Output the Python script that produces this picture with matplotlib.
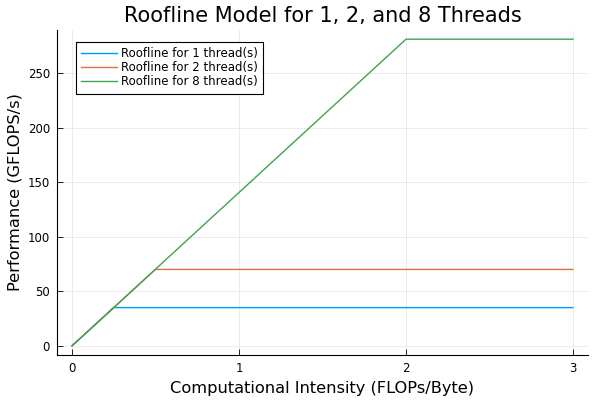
import matplotlib
matplotlib.use('Agg')
import matplotlib.pyplot as plt

# Roofline data (intensity in FLOPs/Byte, performance in GFLOPS/s)
threads = [1, 2, 8]
intensity_1 = [0.0, 0.25, 3.0]
perf_1 = [0.0, 35.0, 35.0]
intensity_2 = [0.0, 0.5, 3.0]
perf_2 = [0.0, 70.0, 70.0]
intensity_8 = [0.0, 2.0, 3.0]
perf_8 = [0.0, 281.0, 281.0]

colors = ['#009AFA', '#E36F47', '#3EA44E']

plt.rcParams['font.family'] = 'DejaVu Sans'

fig = plt.figure(figsize=(6, 4), dpi=100)
ax = fig.add_axes([0.095, 0.1125, 0.885, 0.8125])

series = [(intensity_1, perf_1), (intensity_2, perf_2), (intensity_8, perf_8)]
for t, (x, y), c in zip(threads, series, colors):
    ax.plot(x, y, color=c, linewidth=1, label=f'Roofline for {t} thread(s)')

ax.set_xlim(-0.09, 3.09)
ax.set_ylim(-8.43, 289.43)
ax.set_xticks([0, 1, 2, 3])
ax.set_yticks([0, 50, 100, 150, 200, 250])
ax.grid(True, color='black', alpha=0.1, linewidth=0.5)

for s in ['top', 'right']:
    ax.spines[s].set_visible(False)
ax.tick_params(direction='in', length=4, width=0.6, labelsize=8.5, pad=5)

ax.set_title('Roofline Model for 1, 2, and 8 Threads', fontsize=15)
ax.set_xlabel('Computational Intensity (FLOPs/Byte)', fontsize=11.7)
ax.set_ylabel('Performance (GFLOPS/s)', fontsize=11.7)

leg = ax.legend(loc='upper left', bbox_to_anchor=(19 / 531, 1 - 12 / 325),
                borderaxespad=0, fontsize=8.5, fancybox=False, framealpha=1,
                edgecolor='black', handlelength=3.0, handletextpad=0.35,
                borderpad=0.45, labelspacing=0.08)
leg.get_frame().set_linewidth(0.8)

fig.savefig('out.png', dpi=100)
